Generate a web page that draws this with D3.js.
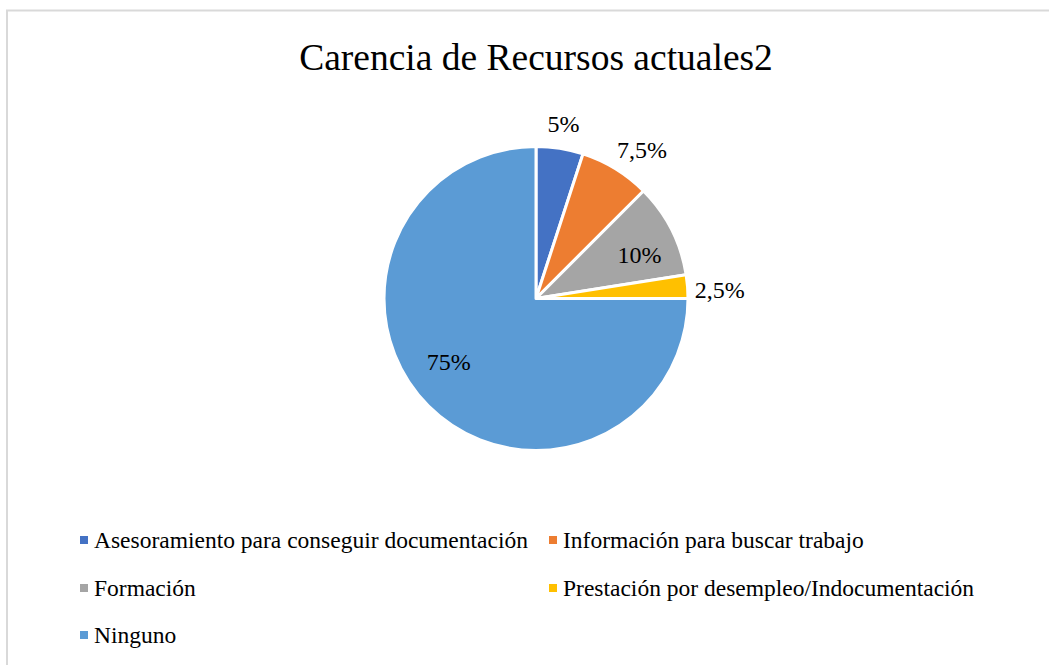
<!DOCTYPE html>
<html><head><meta charset="utf-8">
<script src="https://cdn.jsdelivr.net/npm/d3@7"></script>
<style>
html,body{margin:0;padding:0;background:#fff;}
svg{display:block;}
text{font-family:"Liberation Serif","Times New Roman",serif;fill:#000;}
</style></head>
<body>
<svg id="chart" width="1049" height="665"></svg>
<script>
const title = "Carencia de Recursos actuales2";
const categories = ["Asesoramiento para conseguir documentación","Información para buscar trabajo","Formación","Prestación por desempleo/Indocumentación","Ninguno"];
const values = [5, 7.5, 10, 2.5, 75];
const labels = ["5%","7,5%","10%","2,5%","75%"];
const colors = ["#4472C4","#ED7D31","#A5A5A5","#FFC000","#5B9BD5"];
// label placement (radius factor, angle shift in degrees)
const labelRadius = [1.16, 1.2, 0.74, 1.21, 0.71];
const labelShift = [0, 4, 4, 2, 9];

const W = 1049, H = 665;
const svg = d3.select("#chart");

svg.append("rect").attr("x",7).attr("y",10.5).attr("width",W+10).attr("height",H+10)
  .attr("fill","#fff").attr("stroke","#D9D9D9").attr("stroke-width",2);

svg.append("text").attr("x",536).attr("y",70).attr("text-anchor","middle")
  .style("font-size","37.5px").text(title);

const cx = 536, cy = 298.5, R = 152;
const pie = d3.pie().sort(null).value(d=>d);
const arcs = pie(values);
const arc = d3.arc().innerRadius(0).outerRadius(R);
const g = svg.append("g").attr("transform",`translate(${cx},${cy})`);
g.selectAll("path").data(arcs).join("path")
  .attr("d",arc).attr("fill",(d,i)=>colors[i])
  .attr("stroke","#fff").attr("stroke-width",3).attr("stroke-linejoin","round");

g.selectAll("text.lbl").data(arcs).join("text").attr("class","lbl")
  .attr("text-anchor","middle").attr("dominant-baseline","central")
  .style("font-size","24px")
  .attr("x",(d,i)=>{const a=(d.startAngle+d.endAngle)/2+labelShift[i]*Math.PI/180;return Math.sin(a)*R*labelRadius[i];})
  .attr("y",(d,i)=>{const a=(d.startAngle+d.endAngle)/2+labelShift[i]*Math.PI/180;return -Math.cos(a)*R*labelRadius[i];})
  .text((d,i)=>labels[i]);

// legend
const legX = [80, 549], legY = [540, 588, 635];
const leg = svg.append("g");
categories.forEach((c,i)=>{
  const col = i%2, row = Math.floor(i/2);
  const x = legX[col], y = legY[row];
  leg.append("rect").attr("x",x).attr("y",y-4).attr("width",8).attr("height",8).attr("fill",colors[i]);
  leg.append("text").attr("x",x+14).attr("y",y).attr("dominant-baseline","central")
    .style("font-size","23.5px").text(c);
});
</script>
</body></html>
